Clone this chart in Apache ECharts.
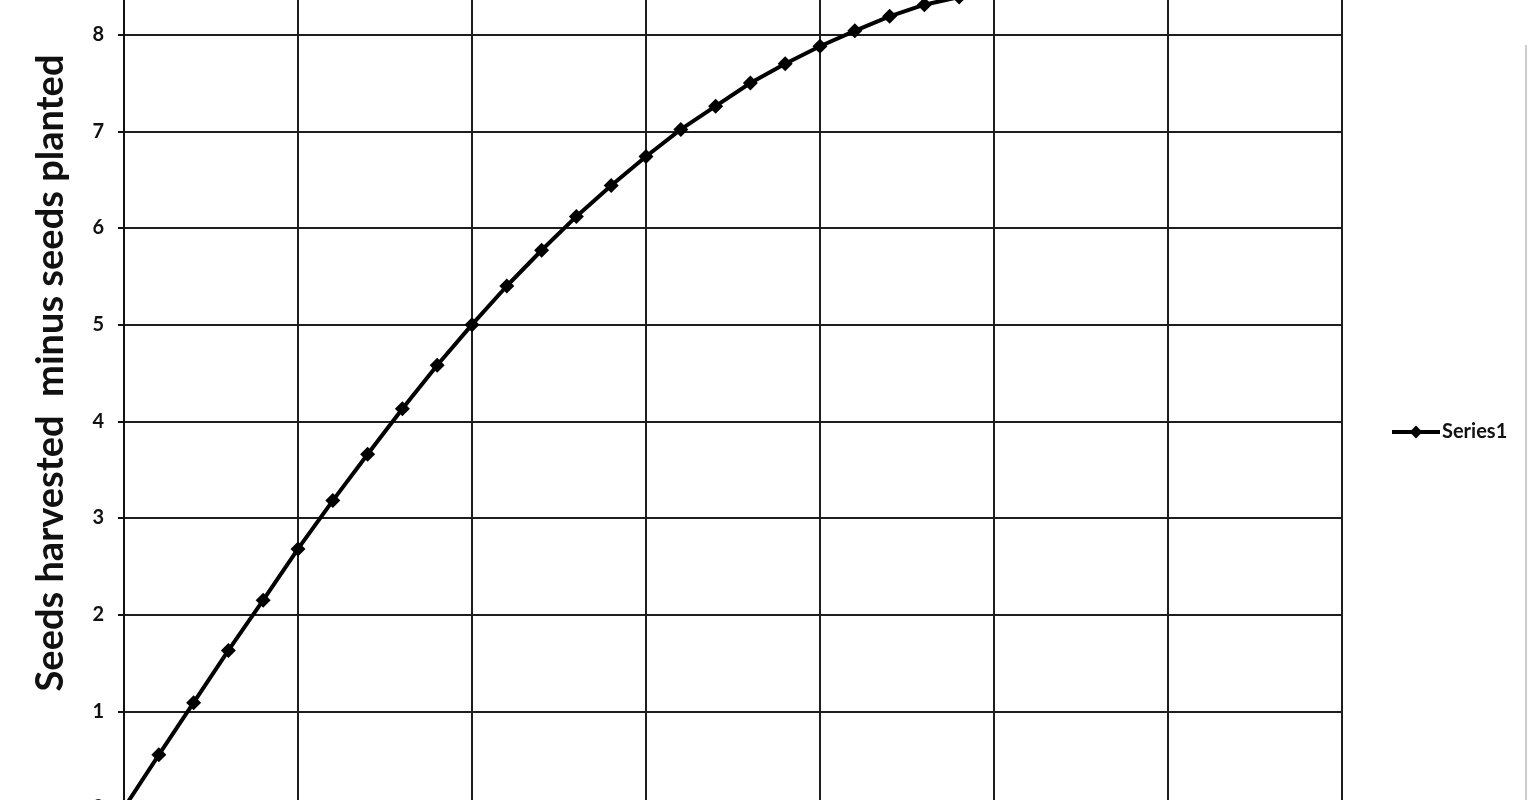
<!DOCTYPE html>
<html>
<head>
<meta charset="utf-8">
<script src="https://cdn.jsdelivr.net/npm/echarts@6/dist/echarts.min.js"></script>
<style>
  html, body { margin: 0; padding: 0; background: #fff; overflow: hidden; width: 1528px; height: 800px; }
  #chart { position: absolute; left: 0; top: -62px; width: 1528px; height: 871px; }
</style>
</head>
<body>
<div id="chart"></div>
<script>
// Data
const xValues = [0, 0.2, 0.4, 0.6, 0.8, 1.0, 1.2, 1.4, 1.6, 1.8, 2.0, 2.2, 2.4, 2.6, 2.8, 3.0, 3.2, 3.4, 3.6, 3.8, 4.0, 4.2, 4.4, 4.6, 4.8];
const series1 = [0, 0.55, 1.09, 1.63, 2.15, 2.68, 3.18, 3.66, 4.13, 4.58, 5.0, 5.40, 5.77, 6.12, 6.44, 6.74, 7.02, 7.26, 7.50, 7.70, 7.88, 8.04, 8.19, 8.31, 8.39];
const seriesName = 'Series1';
const yAxisTitle = 'Seeds harvested  minus seeds planted';

const chart = echarts.init(document.getElementById('chart'), null, { renderer: 'canvas' });
const font = 'Lato, "Open Sans", "DejaVu Sans", sans-serif';

chart.setOption({
  animation: false,
  backgroundColor: '#fff',
  textStyle: { fontFamily: font },
  grid: { left: 124, right: 186, top: 0, bottom: 1, containLabel: false, outerBoundsMode: 'none' },
  legend: {
    data: [seriesName],
    orient: 'vertical',
    left: 1390,
    top: 484,
    padding: 0,
    itemWidth: 48,
    itemHeight: 16,
    itemGap: 4,
    lineStyle: { width: 4, color: '#000' },
    itemStyle: { color: '#000' },
    textStyle: { fontFamily: font, fontSize: 20, fontWeight: 'bold', color: '#111', padding: [0, 0, 0, -3] }
  },
  xAxis: {
    type: 'value',
    min: 0,
    max: 7,
    interval: 1,
    axisLine: { show: true, lineStyle: { color: '#111', width: 2 } },
    axisTick: { show: false },
    axisLabel: { show: false },
    splitLine: { show: true, lineStyle: { color: '#1e1e1e', width: 2 } }
  },
  yAxis: {
    type: 'value',
    min: 0,
    max: 9,
    interval: 1,
    name: yAxisTitle,
    nameLocation: 'middle',
    nameGap: 54,
    nameTextStyle: { fontFamily: font, fontSize: 38, fontWeight: 'bold', color: '#111' },
    axisLine: { show: true, lineStyle: { color: '#111', width: 2 } },
    axisTick: { show: true, length: 6, lineStyle: { color: '#111', width: 2 } },
    axisLabel: { margin: 20, fontFamily: font, fontSize: 20, fontWeight: 'bold', color: '#111' },
    splitLine: { show: true, lineStyle: { color: '#1e1e1e', width: 2 } }
  },
  series: [{
    name: seriesName,
    type: 'line',
    data: xValues.map((x, i) => [x, series1[i]]),
    symbol: 'diamond',
    symbolSize: 15,
    showSymbol: true,
    smooth: false,
    lineStyle: { color: '#000', width: 4 },
    itemStyle: { color: '#000' }
  }],
  graphic: [{
    type: 'line',
    shape: { x1: 1526, y1: 107, x2: 1526, y2: 871 },
    style: { stroke: '#bbb', lineWidth: 1.5 }
  }]
});
</script>
</body>
</html>
